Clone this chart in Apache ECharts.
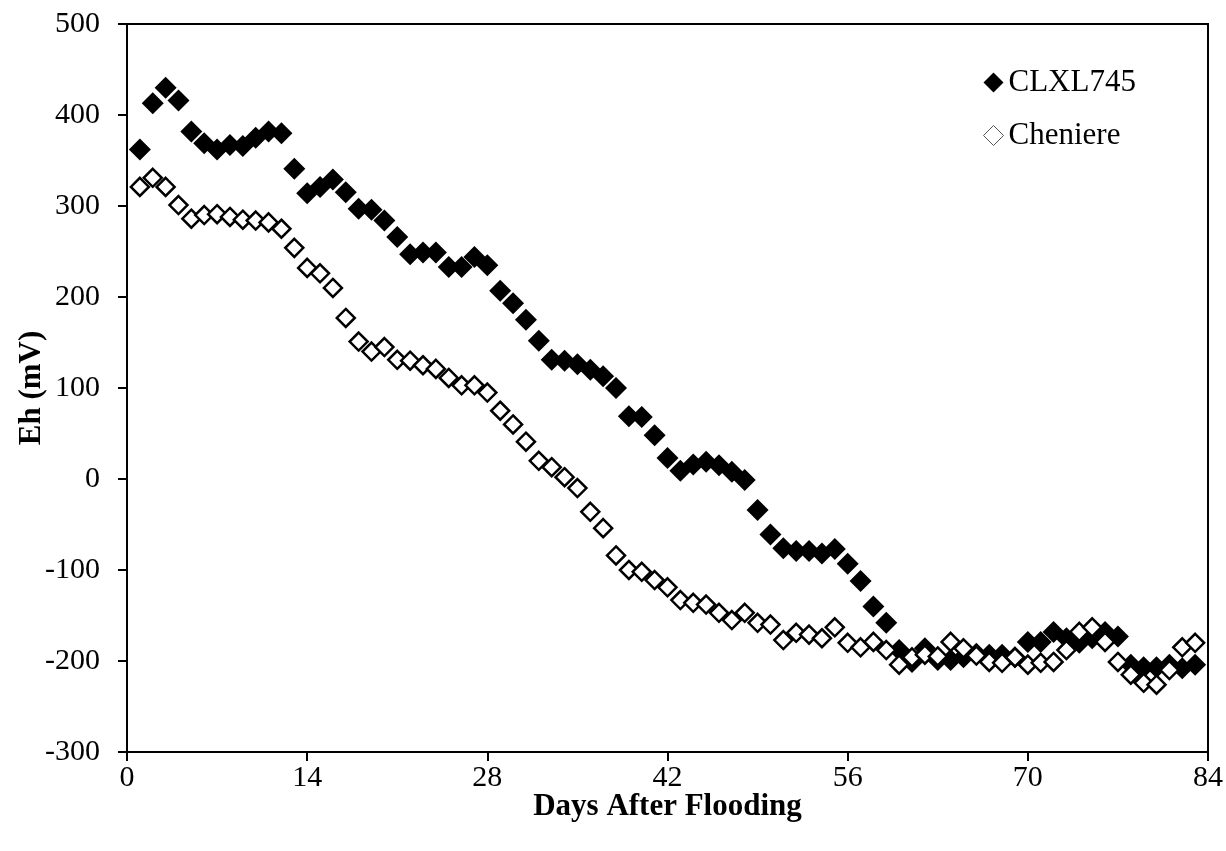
<!DOCTYPE html>
<html>
<head>
<meta charset="utf-8">
<script src="https://cdn.jsdelivr.net/npm/echarts@6/dist/echarts.min.js"></script>
<style>
html,body{margin:0;padding:0;background:#fff;}
#chart{width:1226px;height:851px;}
</style>
</head>
<body>
<div id="chart"></div>
<script>
// Days after flooding
const days = [1,2,3,4,5,6,7,8,9,10,11,12,13,14,15,16,17,18,19,20,21,22,23,24,25,26,27,28,29,30,31,32,33,34,35,36,37,38,39,40,41,42,43,44,45,46,47,48,49,50,51,52,53,54,55,56,57,58,59,60,61,62,63,64,65,66,67,68,69,70,71,72,73,74,75,76,77,78,79,80,81,82,83];
// Eh (mV) - CLXL745
const clxl745 = [362,413,430,416,382,369,362,367,366,375,382,380,341,314,321,329,315,297,296,284,266,247,249,249,233,233,244,235,207,193,175,152,131,130,126,120,113,100,69,68,48,23,9,16,19,15,8,-1,-34,-61,-76,-79,-79,-82,-77,-93,-112,-140,-158,-188,-201,-186,-199,-199,-196,-192,-193,-193,-196,-179,-179,-168,-175,-180,-175,-168,-173,-204,-207,-207,-204,-208,-204];
// Eh (mV) - Cheniere
const cheniere = [321,331,321,301,286,290,291,288,285,284,282,275,254,232,226,210,177,151,140,145,131,130,125,121,111,103,103,95,75,60,41,20,13,2,-10,-36,-54,-84,-100,-102,-111,-119,-133,-136,-138,-147,-155,-147,-158,-160,-177,-169,-171,-175,-163,-180,-185,-179,-188,-204,-196,-193,-195,-179,-186,-194,-201,-202,-196,-204,-202,-201,-188,-168,-163,-179,-201,-215,-224,-226,-210,-185,-180];
const xTicks = [0,14,28,42,56,70,84];
const yTicks = [-300,-200,-100,0,100,200,300,400,500];

const font = 'Liberation Serif';
const chart = echarts.init(document.getElementById('chart'), null, {renderer:'canvas'});
chart.setOption({
  animation:false,
  backgroundColor:'#fff',
  textStyle:{fontFamily:font,color:'#000'},
  grid:{left:127,right:18,top:24,bottom:99,containLabel:false,outerBoundsMode:'none',
        show:true,borderColor:'#000',borderWidth:2,backgroundColor:'transparent'},
  legend:{
    orient:'vertical',left:978,top:62,itemWidth:20,itemHeight:20,itemGap:22,
    textStyle:{fontFamily:font,fontSize:31,color:'#000',lineHeight:31},
    data:[
      {name:'CLXL745',icon:'diamond'},
      {name:'Cheniere',icon:'diamond',itemStyle:{color:'#fff',borderColor:'#555',borderWidth:1}}
    ]
  },
  xAxis:{
    type:'value',min:xTicks[0],max:xTicks[xTicks.length-1],interval:14,
    name:'Days After Flooding',nameLocation:'middle',nameGap:39,nameMoveOverlap:false,
    nameTextStyle:{fontFamily:font,fontSize:31,fontWeight:'bold',color:'#000'},
    axisLine:{show:true,onZero:false,lineStyle:{color:'#000',width:2}},
    axisTick:{show:true,inside:false,length:9,lineStyle:{color:'#000',width:2}},
    axisLabel:{fontFamily:font,fontSize:30,color:'#000',margin:11},
    splitLine:{show:false}
  },
  yAxis:{
    type:'value',min:yTicks[0],max:yTicks[yTicks.length-1],interval:100,
    name:'Eh (mV)',nameLocation:'middle',nameGap:80,nameRotate:90,nameMoveOverlap:false,
    nameTextStyle:{fontFamily:font,fontSize:31,fontWeight:'bold',color:'#000'},
    axisLine:{show:true,onZero:false,lineStyle:{color:'#000',width:2}},
    axisTick:{show:true,inside:false,length:9,lineStyle:{color:'#000',width:2}},
    axisLabel:{fontFamily:font,fontSize:30,color:'#000',margin:27},
    splitLine:{show:false}
  },
  series:[
    {name:'CLXL745',type:'scatter',symbol:'diamond',symbolSize:22,
     itemStyle:{color:'#000',borderColor:'#000',borderWidth:0,opacity:1},
     data:days.map((d,i)=>[d,clxl745[i]])},
    {name:'Cheniere',type:'scatter',symbol:'diamond',symbolSize:18,
     itemStyle:{color:'#fff',borderColor:'#000',borderWidth:2.5,opacity:1},
     data:days.map((d,i)=>[d,cheniere[i]])}
  ]
});
</script>
</body>
</html>
